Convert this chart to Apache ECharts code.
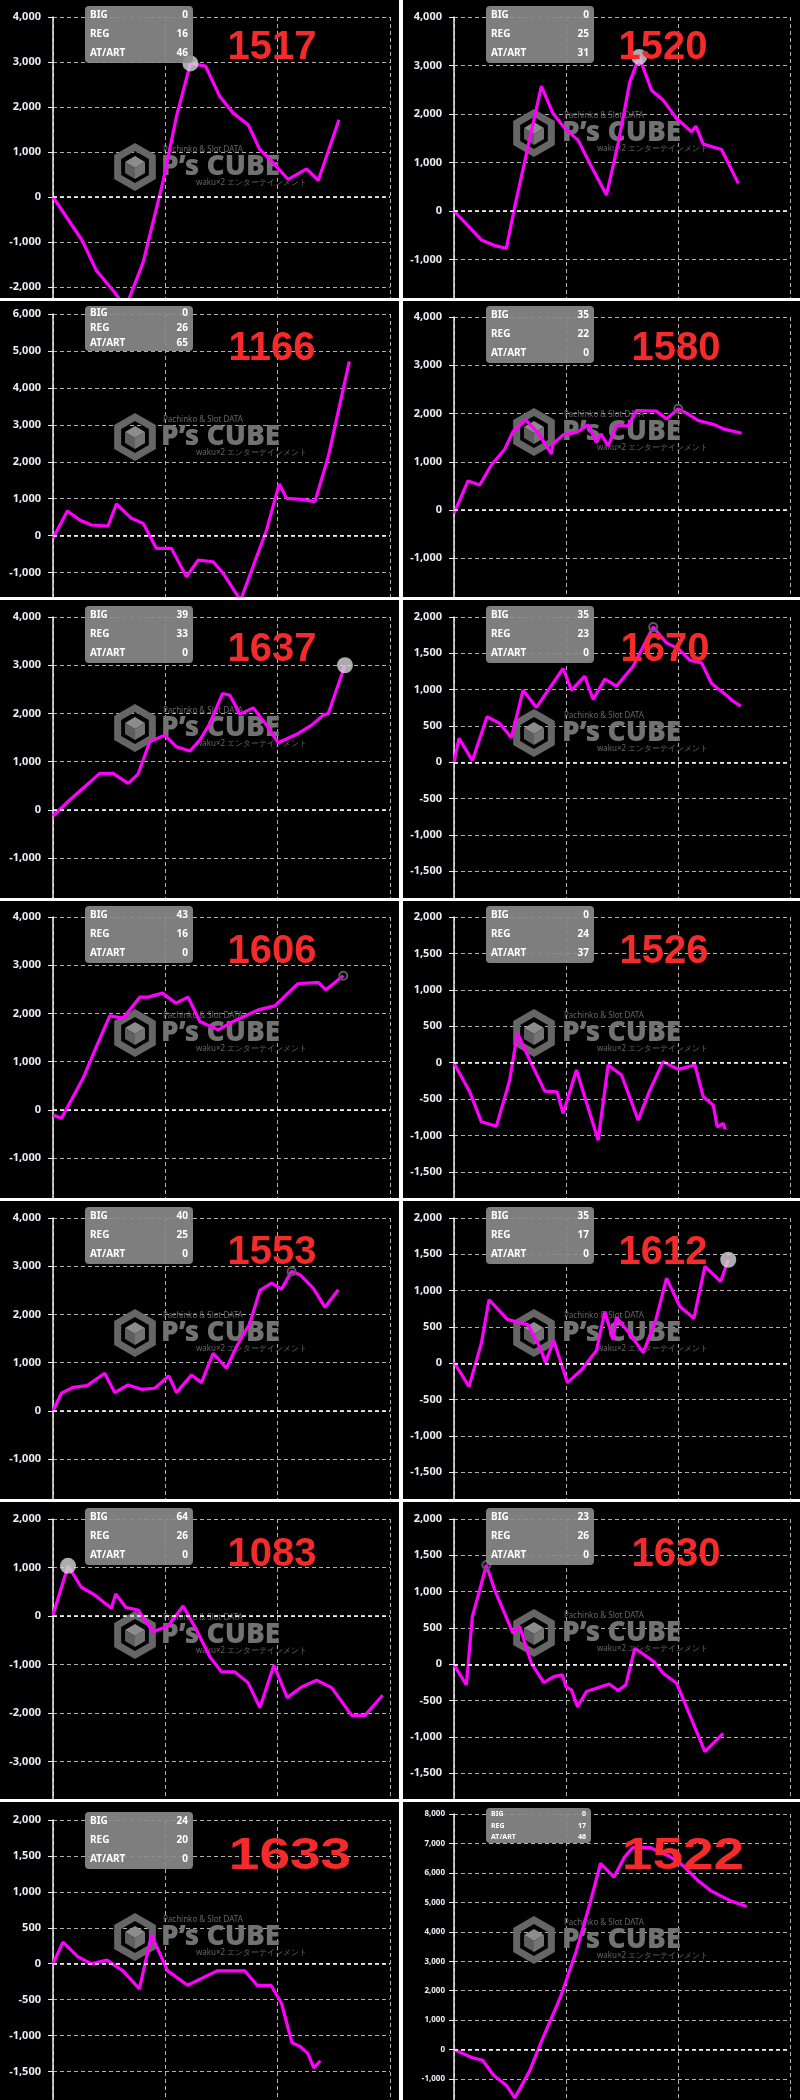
<!DOCTYPE html>
<html><head><meta charset="utf-8">
<script src="https://cdn.jsdelivr.net/npm/echarts@6/dist/echarts.min.js"></script>
<style>html,body{margin:0;padding:0;background:#000;} #c{width:800px;height:2100px;}</style>
</head><body><div id="c"></div>
<script>
// ---- data ----
const machineNos = ['1517','1520','1166','1580','1637','1670','1606','1526','1553','1612','1083','1630','1633','1522'];
const bigCounts = [0,0,0,35,39,35,43,0,40,35,64,23,24,0];
const regCounts = [16,25,26,22,33,23,16,24,25,17,26,26,20,17];
const artCounts = [46,31,65,0,0,0,0,37,0,0,0,0,0,46];
const yMaxes = [4000,4000,6000,4000,4000,2000,4000,2000,4000,2000,2000,2000,2000,8000];
const ySteps = [1000,1000,1000,1000,1000,500,1000,500,1000,500,1000,500,500,1000];
const yMins = [-2244,-1794,-1659,-1803,-1824,-1869,-1824,-1858,-1824,-1869,-3773,-1855,-1910,-1745];
const xMax = 9000, xStep = 3000;

const games1517 = [0,784,1158,1604,1943,2406,2941,3297,3671,4072,4456,4812,5213,5525,5881,6282,6772,7084,7637];
const diff1517 = [0,-972,-1635,-2077,-2450,-1451,354,1790,2969,2910,2232,1864,1606,1053,759,390,626,368,1716];
const games1520 = [0,733,1090,1403,1627,2341,2654,3012,3325,3637,4084,4397,4710,4960,5291,5603,5961,6363,6479,6676,7167,7614];
const diff1520 = [0,-597,-713,-768,89,2573,2010,1667,1461,981,329,1393,2662,3177,2491,2285,1907,1633,1750,1379,1269,569];
const games1166 = [0,383,713,1025,1470,1693,2094,2406,2762,3163,3564,3876,4277,4545,5008,5703,6042,6238,6639,6995,7352,7913];
const diff1166 = [-72,669,425,289,262,858,470,334,-343,-343,-1111,-660,-705,-1021,-1750,154,1401,1012,985,922,2142,4717];
const games1580 = [0,375,688,1001,1358,1582,1921,2252,2610,2654,2922,3280,3593,3816,3932,4129,4352,4665,4889,5425,5693,6006,6229,6542,6989,7212,7704];
const diff1580 = [-69,602,519,934,1260,1626,1869,1592,1163,1370,1557,1606,1765,1398,1578,1329,1744,1744,2062,2048,1889,2097,2007,1855,1765,1682,1592];
const games1637 = [0,446,847,1248,1604,2005,2272,2584,2985,3297,3654,3921,4188,4527,4723,4990,5347,5703,6015,6550,6906,7218,7352,7797];
const diff1637 = [-124,207,483,759,759,552,745,1414,1552,1310,1221,1448,1793,2414,2379,1986,2117,1759,1393,1586,1759,1966,2000,3000];
const games1670 = [0,134,492,885,1224,1537,1850,2207,2922,3146,3503,3727,4040,4352,4799,5335,5693,6006,6318,6631,6899,7346,7436,7677];
const diff1670 = [0,330,23,627,535,339,993,755,1291,993,1185,865,1144,1048,1323,1863,1643,1565,1405,1368,1085,902,856,773];
const games1606 = [0,223,490,802,1158,1515,1871,2317,2540,2923,3279,3609,3921,4411,4812,5480,5926,6532,7084,7289,7753];
const diff1606 = [-104,-173,208,657,1315,1952,1903,2339,2339,2422,2215,2339,1834,1661,1834,2076,2159,2616,2644,2491,2782];
const games1526 = [0,420,733,1135,1492,1698,2029,2431,2761,2922,3280,3861,4129,4486,4933,5246,5603,6006,6453,6676,6944,7051,7212,7266];
const diff1526 = [-9,-399,-812,-872,-239,404,37,-390,-399,-697,-101,-1064,-32,-170,-789,-376,14,-92,-32,-468,-583,-881,-835,-917];
const games1553 = [0,223,535,909,1381,1649,2005,2361,2718,3092,3297,3698,3965,4277,4634,4901,5258,5525,5837,6104,6371,6594,6950,7262,7619];
const diff1553 = [0,367,491,526,782,381,540,450,471,727,381,747,588,1197,886,1336,1820,2498,2651,2526,2893,2824,2547,2152,2512];
const games1612 = [0,402,733,938,1421,1984,2315,2449,2672,3039,3414,3816,4040,4263,4352,4728,5067,5407,5693,6050,6426,6721,7141,7346];
const diff1612 = [14,-322,276,874,607,529,207,9,313,-267,-92,175,713,322,634,391,147,598,1172,782,621,1333,1126,1425];
const games1083 = [0,401,757,1114,1559,1675,1943,2272,2673,3074,3475,3832,4188,4500,4856,5213,5525,5899,6255,6639,7040,7441,7975,8332,8804];
const diff1083 = [21,1034,593,434,159,455,179,124,-324,-207,207,-290,-841,-1152,-1152,-1379,-1890,-1014,-1683,-1462,-1324,-1476,-2048,-2048,-1634];
const games1630 = [0,331,492,688,867,1090,1582,1761,2073,2404,2672,2905,2994,3146,3307,3548,4156,4397,4603,4844,5353,5603,5961,6721,7212];
const diff1630 = [-9,-284,656,1023,1367,1023,427,518,14,-252,-170,-147,-307,-353,-583,-376,-271,-362,-284,220,37,-124,-261,-1202,-950];
const games1633 = [0,267,660,1015,1442,1869,2307,2630,3060,3597,4380,5128,5448,5822,6102,6383,6596,6810,6962,7141];
const diff1633 = [0,300,100,0,50,-100,-350,400,-100,-300,-100,-100,-300,-300,-550,-1100,-1150,-1250,-1450,-1350];
const games1522 = [0,479,766,1053,1412,1628,2022,2381,2848,3279,3638,3925,4286,4572,4787,5253,5794,6153,6509,6871,7409,7840];
const diff1522 = [0,-270,-360,-860,-1230,-1640,-730,400,1770,3360,4950,6320,5860,6550,6860,6860,6550,6230,5770,5400,5050,4860];

const gamesList = [games1517,games1520,games1166,games1580,games1637,games1670,games1606,games1526,games1553,games1612,games1083,games1630,games1633,games1522];
const diffList = [diff1517,diff1520,diff1166,diff1580,diff1637,diff1670,diff1606,diff1526,diff1553,diff1612,diff1083,diff1630,diff1633,diff1522];

// ---- layout / style ----
const colLeft = [53, 454], colWidth = [337, 336];
const gridTops = [17,17,314,317,617,617,917,917,1218,1218,1519,1519,1820,1814];
const rowBottoms = [298,597,898,1198,1499,1799,2101];
const hlKinds = ['big','big','none','ring','big','ring','ring','none','ring','big','big','ring','none','none'];
const numPos = [[272,48],[663,48],[272,349],[676,349],[272,650],[665,650],[272,952],[664,952],[272,1253],[663,1253],[272,1555],[676,1555],[290,1857],[683,1857]];
const wmY = [167,133,437,432,728,733,1033,1033,1333,1333,1635,1633,1937,1940];
const FONT = '"Noto Sans", "DejaVu Sans", sans-serif';

const grids = [], xAxes = [], yAxes = [], series = [], graphics = [];
for (let i = 0; i < 14; i++) {
  const col = i % 2, row = Math.floor(i / 2);
  const small = i === 13;
  grids.push({left: colLeft[col], top: gridTops[i], width: colWidth[col], height: rowBottoms[row] - gridTops[i], containLabel: false, outerBoundsMode: 'none'});
  xAxes.push({gridIndex: i, type: 'value', min: 0, max: xMax, interval: xStep,
    axisLine: {show: false}, axisTick: {show: false}, axisLabel: {show: false},
    splitLine: {show: true, lineStyle: {color: '#b0b0b0', type: [4, 3], width: 1}}});
  yAxes.push({gridIndex: i, type: 'value', min: yMins[i], max: yMaxes[i],
    minInterval: ySteps[i], maxInterval: ySteps[i],
    splitNumber: Math.round((yMaxes[i] - yMins[i]) / ySteps[i]),
    axisLine: {show: true, onZero: false, lineStyle: {color: '#ececec', width: 1.5}},
    axisTick: {show: true, length: 5, lineStyle: {color: '#ececec'}},
    axisLabel: {showMinLabel: false, margin: small ? 9 : 12, color: '#e8eef6', fontSize: small ? 8 : 11, fontWeight: 'bold', fontFamily: FONT,
      formatter: v => Number(v).toLocaleString('en-US')},
    splitLine: {show: true, lineStyle: {color: '#b0b0b0', type: [4, 3], width: 1}}});
  const pts = gamesList[i].map((g, k) => [g, diffList[i][k]]);
  const s = {type: 'line', xAxisIndex: i, yAxisIndex: i, data: pts, showSymbol: false, symbol: 'none',
    lineStyle: {color: '#ff00ff', width: 3.2}, itemStyle: {color: '#ff00ff'}, z: 3, animation: false};
  if (hlKinds[i] === 'big') {
    s.markPoint = {symbol: 'circle', symbolSize: 16, label: {show: false}, silent: true,
      itemStyle: {color: 'rgba(215,215,215,0.8)'}, data: [{type: 'max', valueDim: 'y'}], animation: false};
  } else if (hlKinds[i] === 'ring') {
    s.markPoint = {symbol: 'circle', symbolSize: 8, label: {show: false}, silent: true,
      itemStyle: {color: 'rgba(0,0,0,0)', borderColor: '#5a5a5a', borderWidth: 2}, data: [{type: 'max', valueDim: 'y'}], animation: false};
  }
  series.push(s);
  // zero line
  series.push({type: 'line', xAxisIndex: i, yAxisIndex: i, data: [], z: 1, animation: false,
    markLine: {silent: true, symbol: ['none', 'none'], label: {show: false}, animation: false,
      lineStyle: {color: '#ffffff', type: [4, 3], width: 1.6}, data: [{yAxis: 0}]}});

  // watermark
  const cx = col ? 534 : 135, cy = wmY[i], tx = col ? 562 : 161;
  const hex = [];
  for (let a = 0; a < 6; a++) { const ang = (-90 + a * 60) * Math.PI / 180; hex.push([cx + 20 * Math.cos(ang), cy + 20 * Math.sin(ang)]); }
  graphics.push({type: 'polygon', z: 2, silent: true, shape: {points: hex}, style: {fill: 'none', stroke: '#666666', lineWidth: 7}});
  graphics.push({type: 'polygon', z: 2, silent: true, shape: {points: [[cx, cy - 11], [cx + 10, cy - 5], [cx, cy + 1], [cx - 10, cy - 5]]}, style: {fill: '#8c8c8c'}});
  graphics.push({type: 'polygon', z: 2, silent: true, shape: {points: [[cx - 10, cy - 5], [cx, cy + 1], [cx, cy + 12], [cx - 10, cy + 6]]}, style: {fill: '#5e5e5e'}});
  graphics.push({type: 'polygon', z: 2, silent: true, shape: {points: [[cx, cy + 1], [cx + 10, cy - 5], [cx + 10, cy + 6], [cx, cy + 12]]}, style: {fill: '#747474'}});
  graphics.push({type: 'text', z: 2, silent: true, x: tx, y: cy, style: {text: 'P\u2019s CUBE', fill: '#727272', font: '900 28px ' + FONT, textAlign: 'left', textVerticalAlign: 'middle', align: 'left', verticalAlign: 'middle'}});
  graphics.push({type: 'text', z: 2, silent: true, x: tx + 2, y: cy - 17, style: {text: 'Pachinko & Slot DATA', fill: '#666', font: '8px ' + FONT, textAlign: 'left', textVerticalAlign: 'middle', align: 'left', verticalAlign: 'middle'}});
  graphics.push({type: 'text', z: 2, silent: true, x: tx + 35, y: cy + 16, style: {text: 'waku\u00d72 エンターテインメント', fill: '#666', font: '8px ' + FONT, textAlign: 'left', textVerticalAlign: 'middle', align: 'left', verticalAlign: 'middle'}});

  // info box
  const bx = col ? 486 : 85;
  let bw = 108, bh = 57, by = gridTops[i] - 11, fs = 10;
  if (i === 2) { bh = 45; by = gridTops[i] - 8; }
  if (i === 12) { by = gridTops[i] - 8; }
  if (small) { bw = 105; bh = 35; by = 1808; fs = 7; }
  graphics.push({type: 'rect', z: 50, silent: true, shape: {x: bx, y: by, width: bw, height: bh, r: 4}, style: {fill: 'rgba(140,140,140,0.9)'}});
  const labels = ['BIG', 'REG', 'AT/ART'];
  const vals = [bigCounts[i], regCounts[i], artCounts[i]];
  const fr = [0.16, 0.5, 0.835];
  for (let k = 0; k < 3; k++) {
    graphics.push({type: 'text', z: 51, silent: true, x: bx + 5, y: by + bh * fr[k], style: {text: labels[k], fill: '#ffffff', font: 'bold ' + fs + 'px ' + FONT, textAlign: 'left', textVerticalAlign: 'middle', align: 'left', verticalAlign: 'middle'}});
    graphics.push({type: 'text', z: 51, silent: true, x: bx + bw - 5, y: by + bh * fr[k], style: {text: String(vals[k]), fill: '#ffffff', font: 'bold ' + fs + 'px ' + FONT, textAlign: 'right', textVerticalAlign: 'middle', align: 'right', verticalAlign: 'middle'}});
  }
  // machine number
  const bottomRow = row === 6;
  graphics.push({type: 'text', z: 60, silent: true, x: numPos[i][0], y: numPos[i][1], scaleX: bottomRow ? 1.25 : 1,
    style: {text: machineNos[i], fill: '#f52a2a', font: 'bold ' + (bottomRow ? 44 : 40) + 'px "Liberation Sans", Arial, sans-serif', textAlign: 'center', textVerticalAlign: 'middle', align: 'center', verticalAlign: 'middle'}});
}
// separators
graphics.push({type: 'rect', z: 100, silent: true, shape: {x: 399, y: 0, width: 4, height: 2100}, style: {fill: '#ffffff'}});
for (let r = 0; r < 6; r++) {
  graphics.push({type: 'rect', z: 100, silent: true, shape: {x: 0, y: rowBottoms[r], width: 800, height: 3}, style: {fill: '#ffffff'}});
}

const chart = echarts.init(document.getElementById('c'), null, {renderer: 'canvas', width: 800, height: 2100});
chart.setOption({
  backgroundColor: '#000000',
  animation: false,
  grid: grids, xAxis: xAxes, yAxis: yAxes, series: series,
  graphic: {elements: graphics}
});
</script>
</body></html>
